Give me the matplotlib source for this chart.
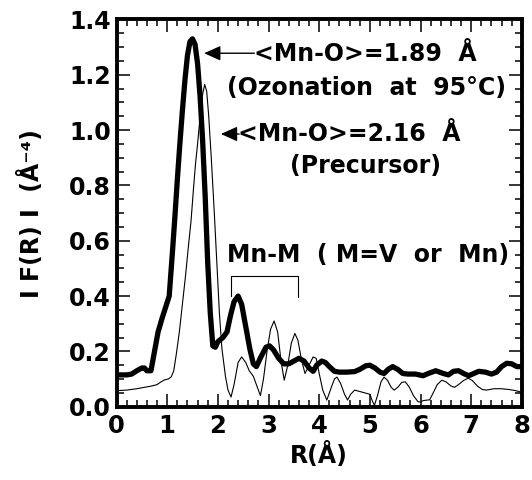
import matplotlib
matplotlib.use("Agg")
import matplotlib.pyplot as plt
from matplotlib.ticker import MultipleLocator

# ---- data ----
r_ozon = [0.00, 0.10, 0.20, 0.30, 0.40, 0.50, 0.55, 0.60, 0.68, 0.75, 0.82, 0.90, 0.97, 1.04,
          1.10, 1.15, 1.20, 1.25, 1.30, 1.35, 1.40, 1.45, 1.50, 1.55, 1.60, 1.65, 1.70, 1.75,
          1.80, 1.85, 1.90, 1.95, 2.00, 2.10, 2.18, 2.25, 2.32, 2.40, 2.47, 2.55, 2.63, 2.70,
          2.76, 2.85, 2.95, 3.02, 3.10, 3.20, 3.30, 3.40, 3.50, 3.60, 3.70, 3.80, 3.88, 3.95,
          4.05, 4.12, 4.20, 4.30, 4.40, 4.55, 4.70, 4.80, 4.92, 5.00, 5.10, 5.20, 5.28, 5.36,
          5.45, 5.55, 5.65, 5.75, 5.90, 6.05, 6.15, 6.30, 6.45, 6.55, 6.65, 6.75, 6.85, 6.95,
          7.05, 7.15, 7.28, 7.40, 7.50, 7.60, 7.70, 7.80, 7.90, 8.00]
f_ozon = [0.115, 0.115, 0.115, 0.118, 0.130, 0.140, 0.140, 0.130, 0.130, 0.200, 0.270, 0.320, 0.360, 0.400,
          0.550, 0.680, 0.820, 0.950, 1.070, 1.180, 1.270, 1.320, 1.330, 1.310, 1.240, 1.120, 0.960, 0.760,
          0.520, 0.340, 0.220, 0.215, 0.235, 0.250, 0.270, 0.330, 0.380, 0.400, 0.370, 0.290, 0.210, 0.155,
          0.145, 0.180, 0.215, 0.220, 0.205, 0.175, 0.155, 0.155, 0.165, 0.175, 0.165, 0.140, 0.128, 0.150,
          0.165, 0.160, 0.145, 0.128, 0.125, 0.125, 0.127, 0.135, 0.148, 0.150, 0.140, 0.125, 0.120, 0.135,
          0.145, 0.135, 0.120, 0.118, 0.118, 0.112, 0.120, 0.130, 0.120, 0.115, 0.128, 0.130, 0.120, 0.112,
          0.120, 0.128, 0.125, 0.118, 0.125, 0.145, 0.157, 0.155, 0.145, 0.145]

r_prec = [0.00, 0.20, 0.40, 0.55, 0.70, 0.80, 0.88, 0.95, 1.02, 1.08, 1.13, 1.18, 1.24, 1.30,
          1.36, 1.43, 1.47, 1.52, 1.56, 1.60, 1.65, 1.70, 1.74, 1.78, 1.82, 1.87, 1.93, 1.98,
          2.03, 2.08, 2.15, 2.20, 2.26, 2.32, 2.40, 2.47, 2.55, 2.62, 2.70, 2.78, 2.84, 2.90,
          2.97, 3.04, 3.11, 3.18, 3.25, 3.31, 3.38, 3.45, 3.52, 3.58, 3.65, 3.72, 3.80, 3.88,
          3.94, 4.00, 4.07, 4.15, 4.22, 4.30, 4.35, 4.42, 4.50, 4.56, 4.62, 4.70, 4.80, 4.90,
          5.00, 5.05, 5.09, 5.15, 5.22, 5.28, 5.35, 5.42, 5.48, 5.55, 5.63, 5.70, 5.78, 5.86,
          5.95, 6.00, 6.05, 6.18, 6.25, 6.33, 6.42, 6.50, 6.60, 6.67, 6.75, 6.85, 6.94, 7.02,
          7.12, 7.22, 7.30, 7.45, 7.60, 7.75, 7.88, 8.00]
f_prec = [0.058, 0.060, 0.065, 0.070, 0.075, 0.080, 0.090, 0.097, 0.100, 0.108, 0.130, 0.190, 0.270, 0.370,
          0.470, 0.600, 0.670, 0.790, 0.880, 0.950, 1.050, 1.130, 1.165, 1.140, 1.050, 0.900, 0.700, 0.520,
          0.340, 0.210, 0.110, 0.060, 0.035, 0.080, 0.160, 0.180, 0.160, 0.130, 0.110, 0.070, 0.040, 0.100,
          0.200, 0.280, 0.310, 0.270, 0.160, 0.096, 0.150, 0.230, 0.265, 0.240, 0.170, 0.120, 0.150, 0.180,
          0.175, 0.120, 0.060, 0.024, 0.060, 0.100, 0.107, 0.085, 0.045, 0.024, 0.045, 0.060, 0.055, 0.050,
          0.045, 0.020, 0.005, 0.040, 0.090, 0.107, 0.095, 0.070, 0.060, 0.070, 0.088, 0.090, 0.070, 0.040,
          0.018, 0.017, 0.022, 0.025, 0.050, 0.080, 0.096, 0.090, 0.075, 0.070, 0.080, 0.095, 0.103, 0.095,
          0.075, 0.062, 0.060, 0.065, 0.065, 0.062, 0.058, 0.052]

x_label = "R(Å)"
y_label = "I F(R) I  (Å⁻⁴)"
label_ozon = "<Mn-O>=1.89  Å"
label_ozon2 = "(Ozonation  at  95°C)"
label_prec = "<Mn-O>=2.16  Å"
label_prec2 = "(Precursor)"
label_mnm = "Mn-M  ( M=V  or  Mn)"
bracket_r = [2.25, 3.58]

plt.rcParams['font.family'] = ['DejaVu Sans']
plt.rcParams['font.weight'] = 'bold'

fig = plt.figure(figsize=(5.32, 4.80), dpi=100)
ax = fig.add_axes([0.219, 0.1527, 0.762, 0.8067])

ax.plot(r_prec, f_prec, color='black', lw=0.8, zorder=2)
ax.plot(r_ozon, f_ozon, color='black', lw=3.8, solid_joinstyle='round', solid_capstyle='round', zorder=3)

ax.set_xlim(0, 8)
ax.set_ylim(0, 1.4)
ax.xaxis.set_major_locator(MultipleLocator(1))
ax.xaxis.set_minor_locator(MultipleLocator(0.2))
ax.yaxis.set_major_locator(MultipleLocator(0.2))
ax.yaxis.set_minor_locator(MultipleLocator(0.05))
ax.xaxis.set_major_formatter(plt.FuncFormatter(lambda v, p: f"{v:.0f}"))
ax.yaxis.set_major_formatter(plt.FuncFormatter(lambda v, p: f"{v:.1f}"))

ax.tick_params(which='both', direction='in', top=True, right=True, width=1.1)
ax.tick_params(which='major', length=9.5)
ax.tick_params(which='minor', length=5)
ax.tick_params(axis='x', which='major', labelsize=17.5, pad=5)
ax.tick_params(axis='y', which='major', labelsize=17, pad=4)
for lab in ax.get_xticklabels() + ax.get_yticklabels():
    lab.set_fontweight('bold')
for s in ax.spines.values():
    s.set_linewidth(2.8)

ax.set_xlabel(x_label, fontsize=17, fontweight='bold', labelpad=3)
ax.set_ylabel(y_label, fontsize=17, fontweight='bold', labelpad=18)

arrow_kw = dict(arrowstyle='-|>,head_length=1.0,head_width=0.45', color='black', lw=1.0,
                shrinkA=0, shrinkB=0)
ax.annotate('', xy=(1.73, 1.278), xytext=(2.72, 1.278), arrowprops=arrow_kw)
ax.text(2.72, 1.274, label_ozon, fontsize=17, fontweight='bold', ha='left', va='center')
ax.text(4.93, 1.152, label_ozon2, fontsize=17, fontweight='bold', ha='center', va='center')
ax.annotate('', xy=(2.06, 0.986), xytext=(2.42, 0.986), arrowprops=arrow_kw)
ax.text(2.40, 0.986, label_prec, fontsize=17, fontweight='bold', ha='left', va='center')
ax.text(4.92, 0.871, label_prec2, fontsize=17, fontweight='bold', ha='center', va='center')
ax.text(4.97, 0.547, label_mnm, fontsize=17, fontweight='bold', ha='center', va='center')

ax.plot([bracket_r[0], bracket_r[0], bracket_r[1], bracket_r[1]], [0.40, 0.474, 0.474, 0.396],
        color='black', lw=0.8)

fig.savefig("out.png", dpi=100)
